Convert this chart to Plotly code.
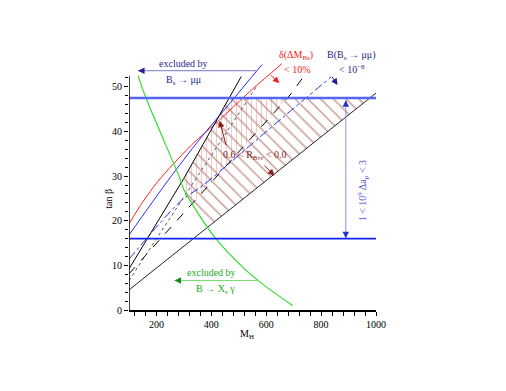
import numpy as np
import plotly.graph_objects as go

# ---- data (M_H, tan beta) ----
tanb_upper = 47.5          # upper bound from Delta a_mu
tanb_lower = 16.0          # lower bound from Delta a_mu

red_x = [100, 150, 205, 260, 330, 430, 545, 658]          # delta(Delta M_Bs) < 10%
red_y = [19.3, 24.2, 28.8, 32.6, 37.1, 42.6, 49.2, 55.2]

blue_x = [100, 242, 357, 470, 585]                       # B(Bs->mumu) curve, solid
blue_y = [16.8, 29.0, 38.2, 46.5, 55.0]

steep_x = [100, 300, 509]                                # black solid, steep
steep_y = [9.2, 29.5, 52.3]

low_x = [100, 1000]                                      # black solid, shallow
low_y = [4.5, 48.6]

dash_x = [100, 466, 690, 733]                            # black dashed
dash_y = [8.1, 33.1, 48.4, 52.0]

dot_x = [100, 563]                                       # grey dotted
dot_y = [6.6, 49.9]

bdd_x = [100, 290, 369, 654, 836]                        # blue dash-dot, B(Bs->mumu) < 1e-8
bdd_y = [11.4, 24.5, 27.9, 42.8, 52.2]

green_x = [133, 163, 284, 302, 412, 515, 587, 696]       # b -> s gamma
green_y = [52.5, 47.3, 29.7, 26.7, 16.3, 9.55, 5.8, 1.0]

xticks = [200, 400, 600, 800, 1000]
yticks = [0, 10, 20, 30, 40, 50]

XR = [100, 1000]
YR = [0, 56]
serif = "Liberation Serif"


def line_at(xs, ys, xg):
    # straight extension past the ends of a sampled line
    xs, ys = np.asarray(xs, float), np.asarray(ys, float)
    y = np.interp(xg, xs, ys)
    lo, hi = xg < xs[0], xg > xs[-1]
    y[lo] = ys[0] + (xg[lo] - xs[0]) * (ys[1] - ys[0]) / (xs[1] - xs[0])
    y[hi] = ys[-1] + (xg[hi] - xs[-1]) * (ys[-1] - ys[-2]) / (xs[-1] - xs[-2])
    return y


def region(top, bottom, xg):
    ok = top > bottom
    xs = np.concatenate([xg[ok], xg[ok][::-1]])
    ys = np.concatenate([top[ok], bottom[ok][::-1]])
    return xs, ys


xg = np.linspace(100, 1000, 901)
green_g = np.interp(xg, green_x, green_y)
steep_g = line_at(steep_x, steep_y, xg)

# diagonal hatch: right of steep line and green curve, above shallow line
hx, hy = region(np.minimum(tanb_upper, steep_g),
                np.maximum(line_at(low_x, low_y, xg), green_g), xg)
# vertical hatch: between steep line and dashed line
vx, vy = region(np.minimum(tanb_upper, steep_g),
                np.maximum(line_at(dash_x, dash_y, xg), green_g), xg)

fig = go.Figure()

fig.add_trace(go.Scatter(x=hx, y=hy, mode="none", fill="toself",
                         fillcolor="rgba(0,0,0,0)",
                         fillpattern=dict(shape="\\", size=9, solidity=0.17,
                                          fgcolor="rgb(150,55,45)",
                                          bgcolor="rgba(0,0,0,0)")))
fig.add_trace(go.Scatter(x=vx, y=vy, mode="none", fill="toself",
                         fillcolor="rgba(0,0,0,0)",
                         fillpattern=dict(shape="|", size=5, solidity=0.22,
                                          fgcolor="rgba(205,130,125,0.8)",
                                          bgcolor="rgba(0,0,0,0)")))

lines = [
    (red_x, red_y, "#ff2222", 1, "solid", "spline"),
    (blue_x, blue_y, "#2a2aff", 1, "solid", "spline"),
    (steep_x, steep_y, "black", 1, "solid", "linear"),
    (low_x, low_y, "#222222", 1, "solid", "linear"),
    (dash_x, dash_y, "black", 1, "dash", "linear"),
    (dot_x, dot_y, "#555555", 1, "dot", "linear"),
    (bdd_x, bdd_y, "#2233ee", 1, "dashdot", "spline"),
    (green_x, green_y, "#33dd33", 1.2, "solid", "spline"),
    (XR, [tanb_upper, tanb_upper], "#5566f2", 2.5, "solid", "linear"),
    (XR, [tanb_lower, tanb_lower], "#1122ee", 1.8, "solid", "linear"),
]
for x, y, c, w, d, s in lines:
    fig.add_trace(go.Scatter(x=x, y=y, mode="lines",
                             line=dict(color=c, width=w, dash=d, shape=s,
                                       smoothing=0.8)))


def arrow(x0, y0, x1, y1, color, linecolor=None, width=1):
    # light shaft, dark head (short arrow laid on top of the tip)
    if linecolor:
        fig.add_shape(type="line", xref="x", yref="y", x0=x0, y0=y0,
                      x1=x1, y1=y1, line=dict(color=linecolor, width=width))
        f = 0.06 if abs(x1 - x0) > 200 or abs(y1 - y0) > 12 else 0.3
        x0, y0 = x1 - (x1 - x0) * f, y1 - (y1 - y0) * f
    fig.add_annotation(x=x1, y=y1, ax=x0, ay=y0, xref="x", yref="y",
                       axref="x", ayref="y", text="", showarrow=True,
                       arrowhead=2, arrowsize=1.3, arrowwidth=width,
                       arrowcolor=color)


def label(x, y, text, color, size=10, angle=0):
    # paper coordinates so labels above the axis range still show
    fig.add_annotation(x=(x - XR[0]) / (XR[1] - XR[0]),
                       y=(y - YR[0]) / (YR[1] - YR[0]),
                       xref="paper", yref="paper", text=text,
                       xanchor="center", yanchor="middle",
                       showarrow=False, textangle=angle,
                       font=dict(family=serif, size=size, color=color))


navy = "#1f1f8f"
label(297, 55.2, "excluded by", navy)
label(297, 51.4, "B<sub>s</sub> → μμ", navy)
arrow(563, 53.6, 133, 53.6, navy, "#7878cc")

label(709, 57.0, "δ(ΔM<sub>Bs</sub>)", "#ee2222")
label(712, 53.8, "< 10%", "#ee2222")
arrow(612, 52.9, 648, 50.8, "#ee2222")

label(910, 57.0, "B(B<sub>s</sub> → μμ)", navy)
label(912, 54.0, "< 10<sup>−8</sup>", navy)
arrow(836, 52.6, 860, 50.4, navy)

label(560, 34.6, "0.6 < R<sub>Bτν</sub> < 0.0", "#8b1a1a")
arrow(455, 36.6, 430, 42.4, "#8b1a1a")
arrow(588, 32.7, 630, 30.1, "#8b1a1a")

arrow(890, 31.5, 890, 47.0, "#2233cc", "#8c8cee")
arrow(890, 31.5, 890, 16.1, "#2233cc", "#8c8cee")
label(951, 26.7, "1 < 10<sup>9</sup> Δa<sub>μ</sub> < 3", "#5050dd", angle=-90)

green = "#22aa22"
label(400, 8.4, "excluded by", green)
label(415, 4.7, "B → X<sub>s</sub> γ", green)
arrow(569, 6.6, 266, 6.6, "#118811", "#77dd77")

# axis titles
label(530, -5.4, "M<sub>H</sub>", "black")
label(25, 25.0, "tan β", "black", angle=-90)

# y axis line stops below the top of the plotting box
fig.add_shape(type="line", xref="x", yref="y", x0=100, x1=100, y0=0, y1=52.5,
              line=dict(color="black", width=1.5))

# page body adds 8 px, so the figure is 8 px smaller with shifted margins
fig.update_layout(
    width=498, height=383, showlegend=False,
    plot_bgcolor="white", paper_bgcolor="white",
    margin=dict(l=121, r=130, t=52, b=81, autoexpand=False),
    font=dict(family=serif, size=10, color="black"),
)
fig.update_xaxes(range=XR, tickvals=xticks, showgrid=False, automargin=False,
                 zeroline=False, showline=True, linecolor="black", linewidth=1.5,
                 ticks="outside", ticklen=4, tickcolor="black",
                 tickfont=dict(family=serif, size=10),
                 minor=dict(tickvals=list(range(120, 1001, 40)), ticks="outside",
                            ticklen=4, tickcolor="black"))
fig.update_yaxes(range=YR, tickvals=yticks, showgrid=False, automargin=False,
                 zeroline=False, showline=False,
                 ticks="outside", ticklen=4, tickcolor="black",
                 tickfont=dict(family=serif, size=10),
                 minor=dict(tickvals=list(range(0, 53, 2)), ticks="outside",
                            ticklen=3, tickcolor="black"))

fig.write_html("out.html")
